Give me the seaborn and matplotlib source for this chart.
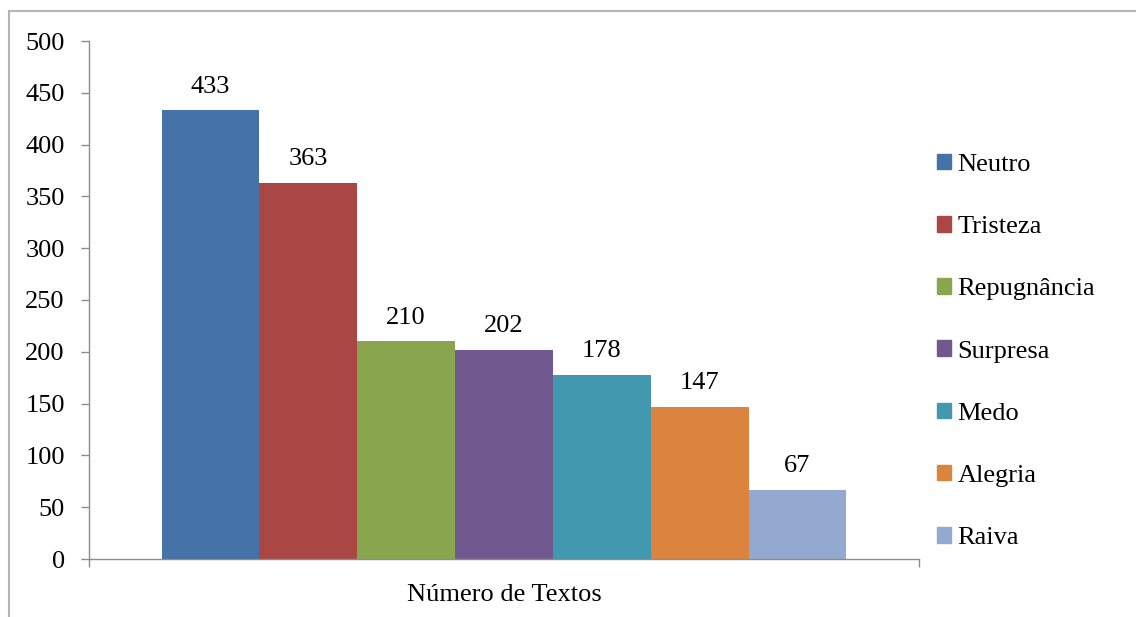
""" Bar chart: number of texts per emotion. """

import matplotlib as mpl
mpl.use("Agg")
import matplotlib.pyplot as plt
import matplotlib.patches as mpatches
import pandas as pd
import seaborn as sns

categoria = ["Número de Textos"]
emocoes = ["Neutro", "Tristeza", "Repugnância", "Surpresa", "Medo", "Alegria", "Raiva"]
valores = [433, 363, 210, 202, 178, 147, 67]
cores = ["#4572A7", "#AA4643", "#89A54E", "#71588F", "#4198AF", "#DB843D", "#93A9CF"]
yticks = list(range(0, 501, 50))


def main():
    sns.set_style("white")
    plt.rcParams["font.family"] = ["Liberation Serif", "DejaVu Serif"]
    plt.rcParams["text.color"] = "black"
    plt.rcParams["xtick.labelcolor"] = "black"
    plt.rcParams["ytick.labelcolor"] = "black"
    plt.rc("font", size=19)

    df = pd.DataFrame({"categoria": categoria * len(emocoes),
                       "emocao": emocoes,
                       "valor": valores})

    fig = plt.figure(figsize=(11.36, 6.17), dpi=100)
    ax = fig.add_axes([89 / 1136, 58 / 617, 830 / 1136, 518 / 617])

    sns.barplot(data=df, x="categoria", y="valor", hue="emocao",
                palette=cores, saturation=1, width=0.825, linewidth=0,
                errorbar=None, ax=ax, legend=False)

    for cont in ax.containers:
        ax.bar_label(cont, padding=9, fontsize=19, color="black")

    ax.set_xlim(-0.5, 0.5)
    ax.set_ylim(0, 500)
    ax.set_yticks(yticks)
    ax.set_xlabel("")
    ax.set_ylabel("")

    for s in ["top", "right"]:
        ax.spines[s].set_visible(False)
    for s in ["left", "bottom"]:
        ax.spines[s].set_color("#8c8c8c")
        ax.spines[s].set_linewidth(1.0)

    ax.tick_params(axis="y", direction="out", length=6, width=1, color="#8c8c8c",
                   pad=11.5, labelsize=19, left=True)
    ax.tick_params(axis="x", which="major", length=0, pad=18, labelsize=19)
    ax.set_xticks([-0.5, 0.5], minor=True)
    ax.tick_params(axis="x", which="minor", direction="out", length=6, width=1,
                   color="#8c8c8c", bottom=True)

    handles = [mpatches.Patch(color=c, label=e) for c, e in zip(cores, emocoes)]
    fig.legend(handles=handles, loc="center left",
               bbox_to_anchor=(937 / 1136, 1 - 351.5 / 617),
               frameon=False, fontsize=19, borderpad=0, borderaxespad=0,
               handlelength=0.53, handleheight=0.53, handletextpad=0.25,
               labelspacing=1.52)

    # chart area frame (cut off at right and bottom)
    frame = mpatches.Rectangle((9 / 1136, -0.1), 1.2, 0.1 + 1 - 11 / 617,
                               transform=fig.transFigure, fill=False,
                               edgecolor="#b4b4b4", linewidth=1.5, clip_on=False)
    fig.patches.append(frame)

    fig.savefig("out.png", dpi=100, facecolor="white")


if __name__ == "__main__":
    main()
